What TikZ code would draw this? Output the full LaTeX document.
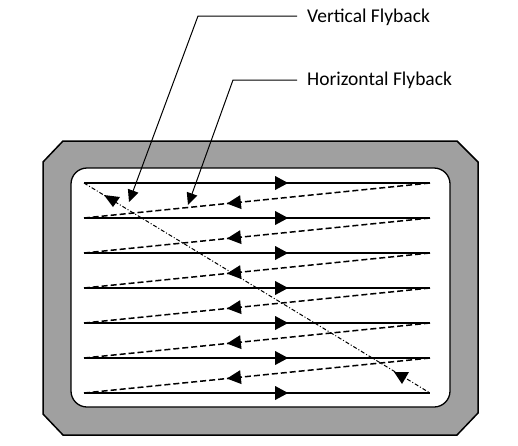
\documentclass[tikz,border=0pt]{standalone}
\usepackage{fontspec}
\setmainfont{Carlito}
\usetikzlibrary{arrows.meta,decorations.markings}
\definecolor{framegray}{RGB}{160,160,160}
\tikzset{
  scanline/.style={line width=1.5pt,
    postaction={decorate,decoration={markings,
      mark=at position 0.59 with {\fill (0,0) -- (-13pt,7pt) -- (-13pt,-7pt) -- cycle;}}}},
  flyline/.style={line width=1.5pt, dash pattern=on 6pt off 3pt,
    postaction={decorate,decoration={markings,
      mark=at position 0.587 with {\fill (0,0) -- (-14pt,7pt) -- (-14pt,-7pt) -- cycle;}}}},
  diagline/.style={line width=1pt, dash pattern=on 4pt off 2pt on 1pt off 2pt},
  leader/.style={line width=1pt, -{Triangle[length=12pt,width=11pt]}},
  label/.style={font=\fontsize{19.5}{22}\selectfont, anchor=base west, inner sep=0pt}
}
\begin{document}
\begin{tikzpicture}[x=1pt,y=-1pt]
\useasboundingbox (0,0) rectangle (518,445);
% outer frame
\draw[line width=1.5pt, fill=framegray] (63,141) -- (457,141) -- (478,162) -- (478,413) -- (457,435) -- (63,435) -- (43,414) -- (43,162) -- cycle;
% inner screen
\draw[line width=1.3pt, fill=white, rounded corners=16pt] (71,168) rectangle (450,407);
% scan line endpoints
\foreach \i/\y in {1/183,2/218,3/253,4/288,5/323,6/358,7/393}{
  \coordinate (L\i) at (84,\y);
  \coordinate (R\i) at (430,\y);
}
\foreach \i in {1,...,7}{ \draw[scanline] (L\i) -- (R\i); }
\foreach \i/\j in {1/2,2/3,3/4,4/5,5/6,6/7}{ \draw[flyline] (R\i) -- (L\j); }
% vertical flyback diagonal
\draw[diagline] (L1) -- (R7);
\fill (104,195) -- (120,197) -- (113,207) -- cycle;
\fill (394,372) -- (409,372) -- (402,384) -- cycle;
% labels
\node[label] (vf) at (307,22) {Vertical Flyback};
\node[label] (hf) at (307,85) {Horizontal Flyback};
\coordinate (vbend) at (198,16);
\coordinate (vtip) at (129,202);
\coordinate (hbend) at (233,80);
\coordinate (htip) at (188,205);
\draw[leader] (vf.west |- vbend) ++(-10,0) -- (vbend) -- (vtip);
\draw[leader] (hf.west |- hbend) ++(-10,0) -- (hbend) -- (htip);
\end{tikzpicture}
\end{document}
